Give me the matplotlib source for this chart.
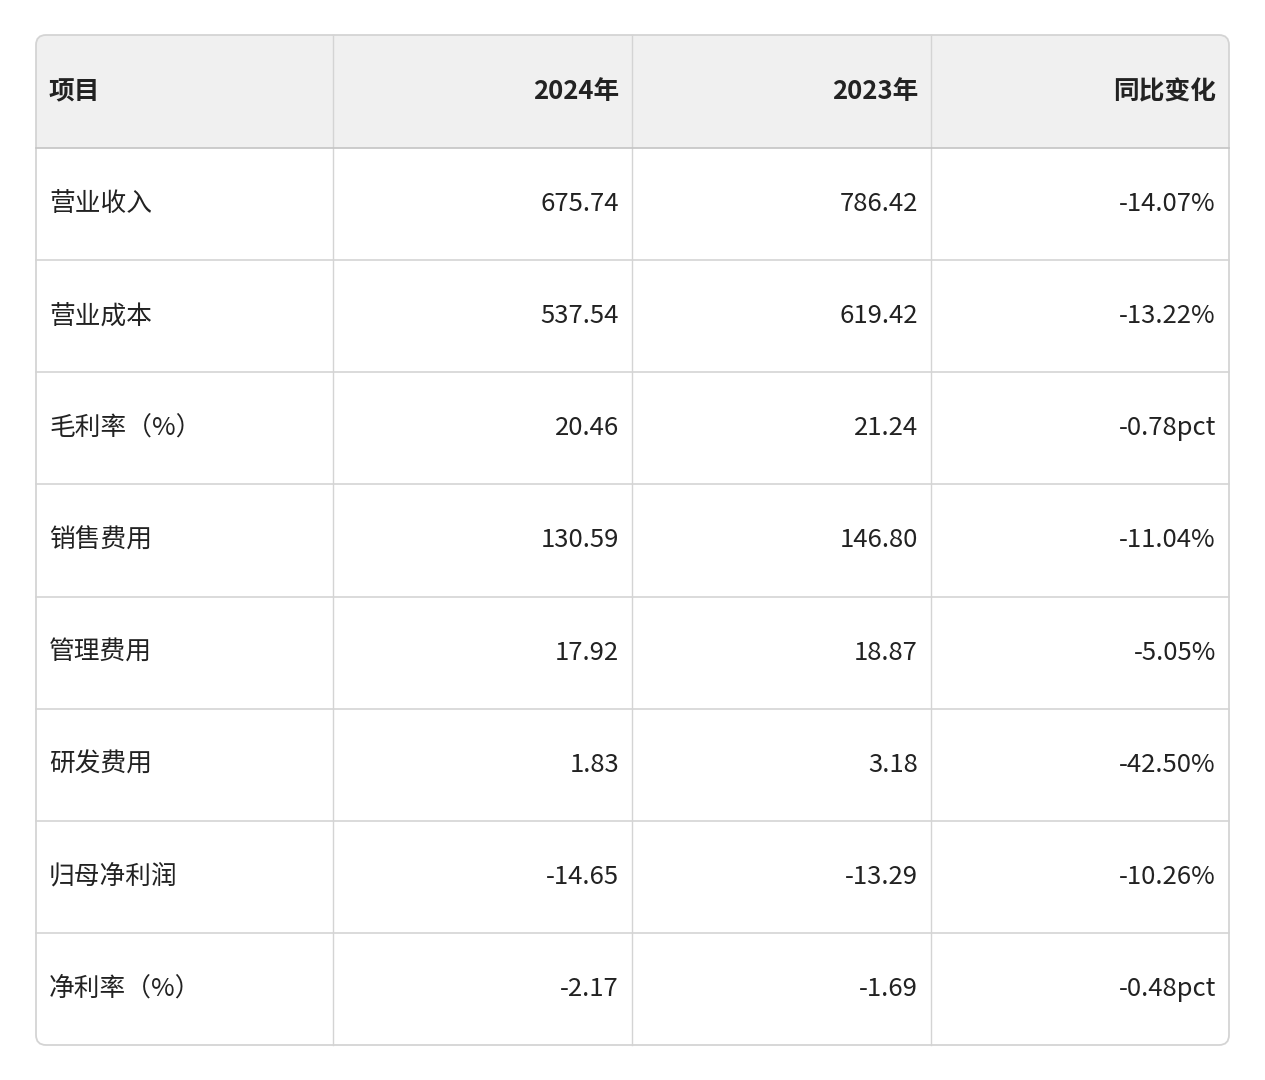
import matplotlib
matplotlib.use('Agg')
import matplotlib.pyplot as plt
from matplotlib.patches import FancyBboxPatch, Rectangle

plt.rcParams['font.family'] = ['Noto Sans CJK SC', 'DejaVu Sans']

headers = ['项目', '2024年', '2023年', '同比变化']
items = ['营业收入', '营业成本', '毛利率（%）', '销售费用', '管理费用', '研发费用', '归母净利润', '净利率（%）']
v2024 = ['675.74', '537.54', '20.46', '130.59', '17.92', '1.83', '-14.65', '-2.17']
v2023 = ['786.42', '619.42', '21.24', '146.80', '18.87', '3.18', '-13.29', '-1.69']
yoy = ['-14.07%', '-13.22%', '-0.78pct', '-11.04%', '-5.05%', '-42.50%', '-10.26%', '-0.48pct']

fig = plt.figure(figsize=(12.65, 10.8), dpi=100)
ax = fig.add_axes([0, 0, 1, 1])
ax.set_xlim(0, 1265)
ax.set_ylim(1080, 0)
ax.axis('off')

left, right, top, bottom = 36, 1229, 35, 1045
col_x = [left, 333, 632, 931, right]
head_h = 113
row_h = (bottom - top - head_h) / len(items)
line_c = '#d4d4d4'

# header background
ax.add_patch(FancyBboxPatch((left, top), right - left, head_h, boxstyle='round,pad=0,rounding_size=10',
                            fc='#f0f0f0', ec='none'))
ax.add_patch(Rectangle((left, top + head_h - 15), right - left, 15, fc='#f0f0f0', ec='none'))
# outer border
ax.add_patch(FancyBboxPatch((left, top), right - left, bottom - top, boxstyle='round,pad=0,rounding_size=10',
                            fc='none', ec=line_c, lw=1.3))

for x in col_x[1:-1]:
    ax.plot([x, x], [top, bottom], color=line_c, lw=1)
for i in range(len(items)):
    y = top + head_h + i * row_h
    ax.plot([left, right], [y, y], color='#c4c4c4' if i == 0 else line_c, lw=1.2)

pad = 13
hy = top + head_h / 2
for j, h in enumerate(headers):
    if j == 0:
        ax.text(col_x[0] + pad, hy, h, ha='left', va='center', fontsize=18.5, fontweight='bold', color='#222222')
    else:
        ax.text(col_x[j + 1] - pad, hy, h, ha='right', va='center', fontsize=18.5, fontweight='bold', color='#222222')

for i in range(len(items)):
    cy = top + head_h + (i + 0.5) * row_h
    ax.text(col_x[0] + pad, cy, items[i], ha='left', va='center', fontsize=18.5, color='#222222')
    for j, vals in enumerate([v2024, v2023, yoy]):
        ax.text(col_x[j + 2] - pad, cy, vals[i], ha='right', va='center', fontsize=18.5, color='#222222')

fig.savefig('out.png', dpi=100, facecolor='white')
